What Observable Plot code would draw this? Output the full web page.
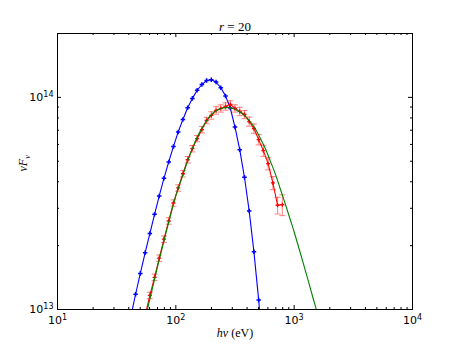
<!DOCTYPE html>
<html><head><meta charset="utf-8">
<script src="https://cdn.jsdelivr.net/npm/d3@7"></script>
<script src="https://cdn.jsdelivr.net/npm/@observablehq/plot@0.6"></script>
<style>body{margin:0;background:#fff;} svg{display:block}</style>
</head><body><div id="chart"></div>
<script>
// ---- data ----
const blueEnergy = [41.7, 45.7, 50.1, 55.0, 60.3, 66.1, 72.4, 79.4, 87.1, 95.5, 104.7, 114.8, 125.9, 138.0, 151.4, 166.0, 182.0, 199.5, 218.8, 239.9, 263.0, 288.4, 316.2, 346.7, 380.2, 416.9, 457.1, 501.2, 549.5];
const blueFlux = [9.3e12, 1.18e13, 1.48e13, 1.85e13, 2.28e13, 2.81e13, 3.43e13, 4.16e13, 4.96e13, 5.87e13, 6.87e13, 7.87e13, 8.94e13, 9.89e13, 1.08e14, 1.15e14, 1.20e14, 1.21e14, 1.18e14, 1.11e14, 1.016e14, 8.91e13, 7.24e13, 5.67e13, 4.20e13, 2.91e13, 1.87e13, 1.11e13, 6.0e12];

const redEnergy = [55.0, 60.3, 66.1, 72.4, 79.4, 87.1, 95.5, 104.7, 114.8, 125.9, 138.0, 151.4, 166.0, 182.0, 199.5, 218.8, 239.9, 263.0, 288.4, 316.2, 346.7, 380.2, 416.9, 457.1, 501.2, 549.5, 602.6, 660.7, 724.4, 794.3];
const redFlux = [9.37e12, 1.165e13, 1.418e13, 1.746e13, 2.147e13, 2.614e13, 3.177e13, 3.741e13, 4.363e13, 5.083e13, 5.73e13, 6.39e13, 7.05e13, 7.78e13, 8.22e13, 8.68e13, 8.87e13, 9.06e13, 9.27e13, 8.87e13, 8.59e13, 8.30e13, 7.69e13, 7.13e13, 6.32e13, 5.61e13, 4.87e13, 3.95e13, 3.10e13, 3.12e13];
const redError = [3.3e11, 4.1e11, 5.0e11, 6.1e11, 7.5e11, 9.1e11, 1.1e12, 1.3e12, 1.5e12, 1.8e12, 2.0e12, 2.2e12, 2.5e12, 2.7e12, 3.3e12, 3.5e12, 3.5e12, 3.6e12, 3.7e12, 3.5e12, 3.9e12, 3.7e12, 3.8e12, 3.6e12, 3.5e12, 3.4e12, 3.2e12, 2.8e12, 2.8e12, 3.5e12];

const greenEnergy = [52.5, 57.5, 63.1, 69.2, 75.9, 83.2, 91.2, 100, 109.6, 120.2, 131.8, 144.5, 158.5, 173.8, 190.5, 208.9, 229.1, 251.2, 275.4, 302.0, 331.1, 363.1, 398.1, 436.5, 478.6, 524.8, 575.4, 631.0, 691.8, 758.6, 831.8, 912.0, 1000, 1096, 1202, 1318, 1445, 1585];
const greenFlux = [8.1e12, 1.00e13, 1.245e13, 1.55e13, 1.905e13, 2.34e13, 2.85e13, 3.44e13, 4.00e13, 4.66e13, 5.37e13, 6.12e13, 6.82e13, 7.45e13, 8.04e13, 8.49e13, 8.77e13, 8.91e13, 8.97e13, 8.87e13, 8.67e13, 8.39e13, 8.00e13, 7.53e13, 6.98e13, 6.32e13, 5.68e13, 4.98e13, 4.37e13, 3.74e13, 3.21e13, 2.73e13, 2.32e13, 1.95e13, 1.63e13, 1.36e13, 1.13e13, 0.946e13];

const xMajor = [10, 100, 1000, 10000];
const xMinor = [20,30,40,50,60,70,80,90,200,300,400,500,600,700,800,900,2000,3000,4000,5000,6000,7000,8000,9000];
const yMajor = [1e13, 1e14];
const yMinor = [2e13,3e13,4e13,5e13,6e13,7e13,8e13,9e13,2e14];
const xTickLabels = ["10^1", "10^2", "10^3", "10^4"];
const yTickLabels = ["10^13", "10^14"];
const titleText = "r = 20";
const xLabelText = "hν (eV)";
const yLabelText = "νF_ν";

// ---- tables ----
const blue = blueEnergy.map((e, i) => ({e, f: blueFlux[i]}));
const red = redEnergy.map((e, i) => ({e, f: redFlux[i], lo: redFlux[i] - redError[i], hi: redFlux[i] + redError[i]}));
const green = greenEnergy.map((e, i) => ({e, f: greenFlux[i]}));

const W = 458, H = 345, mL = 57, mR = 46, mT = 33, mB = 36;
const fw = W - mL - mR, fh = H - mT - mB;
const tMaj = 4, tMin = 2;
const cap = {draw(ctx, size) { const w = Math.sqrt(size / Math.PI); ctx.moveTo(-w, 0); ctx.lineTo(w, 0); }};
const serif = "Liberation Serif";

const chart = Plot.plot({
  width: W, height: H,
  marginLeft: mL, marginRight: mR, marginTop: mT, marginBottom: mB,
  x: {type: "log", domain: [10, 1e4], axis: null},
  y: {type: "log", domain: [1e13, 2e14], axis: null},
  style: {fontFamily: "DejaVu Sans", fontSize: "11px", background: "#fff", color: "#000"},
  marks: [
    Plot.line(blue, {x: "e", y: "f", stroke: "#0000ff", strokeWidth: 1.1, clip: true}),
    Plot.dot(blue, {x: "e", y: "f", symbol: "cross", r: 1.9, fill: "#0000ff", stroke: "none", clip: true}),
    Plot.ruleX(red, {x: "e", y1: "lo", y2: "hi", stroke: "#ff0000", strokeOpacity: 0.5, strokeWidth: 1, clip: true}),
    Plot.dot(red, {x: "e", y: "lo", symbol: cap, r: 3, fill: "none", stroke: "#ff0000", strokeOpacity: 0.5, strokeWidth: 1, clip: true}),
    Plot.dot(red, {x: "e", y: "hi", symbol: cap, r: 3, fill: "none", stroke: "#ff0000", strokeOpacity: 0.5, strokeWidth: 1, clip: true}),
    Plot.line(red, {x: "e", y: "f", stroke: "#ff0000", strokeWidth: 1.1, clip: true}),
    Plot.dot(red, {x: "e", y: "f", symbol: "cross", r: 1.7, fill: "#ff0000", stroke: "none", clip: true}),
    Plot.line(green, {x: "e", y: "f", stroke: "#008000", strokeWidth: 1.1, curve: "catmull-rom", clip: true}),
    // inward ticks, all four sides
    Plot.tickX(xMajor, {x: d => d, insetTop: fh - tMaj, stroke: "#000"}),
    Plot.tickX(xMajor, {x: d => d, insetBottom: fh - tMaj, stroke: "#000"}),
    Plot.tickX(xMinor, {x: d => d, insetTop: fh - tMin, stroke: "#000"}),
    Plot.tickX(xMinor, {x: d => d, insetBottom: fh - tMin, stroke: "#000"}),
    Plot.tickY(yMajor, {y: d => d, insetRight: fw - tMaj, stroke: "#000"}),
    Plot.tickY(yMajor, {y: d => d, insetLeft: fw - tMaj, stroke: "#000"}),
    Plot.tickY(yMinor, {y: d => d, insetRight: fw - tMin, stroke: "#000"}),
    Plot.tickY(yMinor, {y: d => d, insetLeft: fw - tMin, stroke: "#000"}),
    Plot.frame({stroke: "#000", strokeWidth: 1}),
    Plot.text(xMajor, {x: d => d, text: (d, i) => xTickLabels[i], frameAnchor: "bottom", lineAnchor: "middle", dy: 11, fontSize: 11}),
    Plot.text(yMajor, {y: d => d, text: (d, i) => yTickLabels[i], frameAnchor: "left", lineAnchor: "middle", dx: -4, textAnchor: "end", fontSize: 11}),
    Plot.text([titleText], {frameAnchor: "top", lineAnchor: "middle", dy: -7, fontFamily: serif, fontSize: 13}),
    Plot.text([xLabelText], {frameAnchor: "bottom", lineAnchor: "middle", dy: 24, fontFamily: serif, fontSize: 12}),
    Plot.text([yLabelText], {frameAnchor: "left", lineAnchor: "middle", dx: -34, rotate: -90, fontFamily: serif, fontSize: 12})
  ]
});
document.getElementById("chart").appendChild(chart);

// ---- typographic post-processing (superscripts, italics, subscripts) ----
d3.select(chart).selectAll("text").each(function() {
  const t = d3.select(this);
  const s = t.text();
  if (s.includes("^")) {
    const [b, e] = s.split("^");
    t.text(b);
    t.append("tspan").attr("dy", "-0.5em").attr("font-size", "8px").text(e);
  } else if (s === titleText) {
    t.text("");
    t.append("tspan").attr("font-style", "italic").text(s.slice(0, 1));
    t.append("tspan").text(s.slice(1));
  } else if (s === xLabelText) {
    const k = s.indexOf(" ");
    t.text("");
    t.append("tspan").attr("font-style", "italic").text(s.slice(0, k));
    t.append("tspan").text(s.slice(k));
  } else if (s === yLabelText) {
    const [a, b] = s.split("_");
    t.text("");
    t.append("tspan").attr("font-style", "italic").text(a);
    t.append("tspan").attr("font-style", "italic").attr("font-size", "8px").attr("dy", "0.3em").text(b);
  }
});
</script>
</body></html>
